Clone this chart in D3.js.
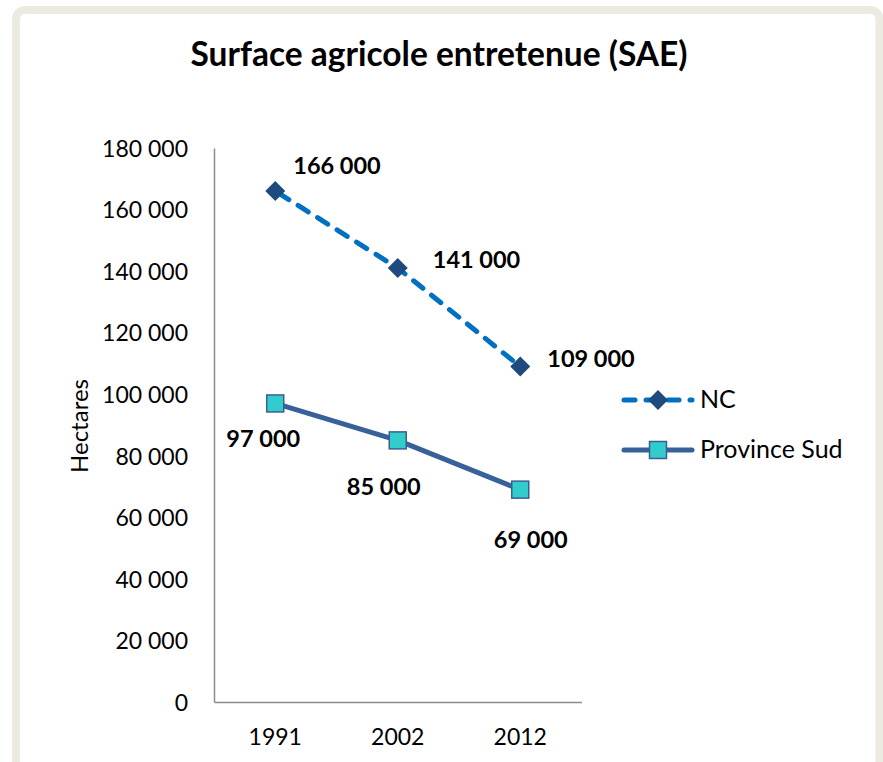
<!DOCTYPE html>
<html>
<head>
<meta charset="utf-8">
<script src="https://cdn.jsdelivr.net/npm/d3@7"></script>
<style>
  html, body { margin: 0; padding: 0; background: #ffffff; }
  svg { display: block; }
  text { font-family: Lato, "Noto Sans", sans-serif; fill: #000; }
</style>
</head>
<body>
<svg id="chart" width="883" height="762"></svg>
<script>
// ---- data ----
const years = ["1991", "2002", "2012"];
const ncValues = [166000, 141000, 109000];
const sudValues = [97000, 85000, 69000];
const seriesNames = ["NC", "Province Sud"];
const yTicks = [0, 20000, 40000, 60000, 80000, 100000, 120000, 140000, 160000, 180000];
const titleText = "Surface agricole entretenue (SAE)";
const yAxisTitle = "Hectares";

// ---- layout ----
const svg = d3.select("#chart");
const plot = { left: 214, right: 581.5, top: 148, bottom: 702 };

// frame
svg.append("rect")
  .attr("x", 16).attr("y", 10)
  .attr("width", 863.5).attr("height", 790)
  .attr("rx", 9).attr("ry", 9)
  .attr("fill", "none")
  .attr("stroke", "#EDEBE0")
  .attr("stroke-width", 8);

// title
svg.append("text")
  .attr("x", 439).attr("y", 66)
  .attr("text-anchor", "middle")
  .style("font-weight", "bold")
  .style("font-size", "33.5px")
  .text(titleText);

const x = d3.scaleBand().domain(years).range([plot.left, plot.right]).padding(0);
const y = d3.scaleLinear().domain([0, 180000]).range([plot.bottom, plot.top]);
const cx = d => x(d) + x.bandwidth() / 2;

const fmt = v => d3.format(",")(v).replace(/,/g, " ");

// y axis
const yAxis = d3.axisLeft(y).tickValues(yTicks).tickSize(0).tickPadding(26).tickFormat(fmt);
const gy = svg.append("g").attr("transform", `translate(${plot.left},0)`).call(yAxis);
gy.select(".domain").attr("stroke", "#8C8C8C").attr("stroke-width", 1.5);
gy.selectAll("text").style("font-size", "23px").style("font-family", "Lato, sans-serif").attr("fill", "#000").attr("dy", "0.36em");

// x axis
const xAxis = d3.axisBottom(x).tickSize(0).tickPadding(27);
const gx = svg.append("g").attr("transform", `translate(0,${plot.bottom})`).call(xAxis);
gx.select(".domain").attr("stroke", "#8C8C8C").attr("stroke-width", 1.5);
gx.selectAll("text").style("font-size", "23px").style("font-family", "Lato, sans-serif").attr("fill", "#000");

// y axis title
svg.append("text")
  .attr("transform", `translate(88,426) rotate(-90)`)
  .attr("text-anchor", "middle")
  .style("font-size", "24px")
  .text(yAxisTitle);

// ---- series ----
const ncColorLine = "#0070C0";
const ncMarker = "#1F4A7E";
const sudLine = "#38619A";
const sudFill = "#33CCCC";
const sudStroke = "#3A5F92";

const line = d3.line().x(d => cx(d.year)).y(d => y(d.value));
const ncData = years.map((yr, i) => ({ year: yr, value: ncValues[i] }));
const sudData = years.map((yr, i) => ({ year: yr, value: sudValues[i] }));

svg.append("path").datum(sudData)
  .attr("d", line).attr("fill", "none")
  .attr("stroke", sudLine).attr("stroke-width", 5).attr("stroke-linejoin", "round");

svg.append("path").datum(ncData)
  .attr("d", line).attr("fill", "none")
  .attr("stroke", ncColorLine).attr("stroke-width", 5)
  .attr("stroke-dasharray", "12,11").attr("stroke-dashoffset", -4)
  .attr("stroke-linecap", "round");

const diamond = (g, px, py) => g.append("path")
  .attr("d", `M${px},${py - 10}L${px + 10},${py}L${px},${py + 10}L${px - 10},${py}Z`)
  .attr("fill", ncMarker);
const square = (g, px, py) => g.append("rect")
  .attr("x", px - 8.5).attr("y", py - 8.5).attr("width", 17).attr("height", 17)
  .attr("fill", sudFill).attr("stroke", sudStroke).attr("stroke-width", 1.5);

ncData.forEach(d => diamond(svg, cx(d.year), y(d.value)));
sudData.forEach(d => square(svg, cx(d.year), y(d.value)));

// data labels (offsets from each marker)
const ncLabelOffsets = [[18, -17], [35, 0], [27, 0.5]];
const sudLabelOffsets = [[-12, 43.5], [-14, 55], [10.5, 58]];

ncData.forEach((d, i) => {
  svg.append("text")
    .attr("x", cx(d.year) + ncLabelOffsets[i][0])
    .attr("y", y(d.value) + ncLabelOffsets[i][1])
    .style("font-weight", "bold").style("font-size", "23.5px")
    .text(fmt(d.value));
});
sudData.forEach((d, i) => {
  svg.append("text")
    .attr("x", cx(d.year) + sudLabelOffsets[i][0])
    .attr("y", y(d.value) + sudLabelOffsets[i][1])
    .attr("text-anchor", "middle")
    .style("font-weight", "bold").style("font-size", "23.5px")
    .text(fmt(d.value));
});

// ---- legend ----
const legend = svg.append("g");
const legRows = [400, 450];
// NC
legend.append("line").attr("x1", 624).attr("x2", 692).attr("y1", legRows[0]).attr("y2", legRows[0])
  .attr("stroke", ncColorLine).attr("stroke-width", 5)
  .attr("stroke-dasharray", "11,11").attr("stroke-linecap", "round");
diamond(legend, 658, legRows[0]);
legend.append("text").attr("x", 700).attr("y", legRows[0] + 8).style("font-size", "25px").text(seriesNames[0]);
// Province Sud
legend.append("line").attr("x1", 624).attr("x2", 692).attr("y1", legRows[1]).attr("y2", legRows[1])
  .attr("stroke", sudLine).attr("stroke-width", 5).attr("stroke-linecap", "round");
square(legend, 658, legRows[1]);
legend.append("text").attr("x", 700).attr("y", legRows[1] + 8).style("font-size", "25px").text(seriesNames[1]);
</script>
</body>
</html>
